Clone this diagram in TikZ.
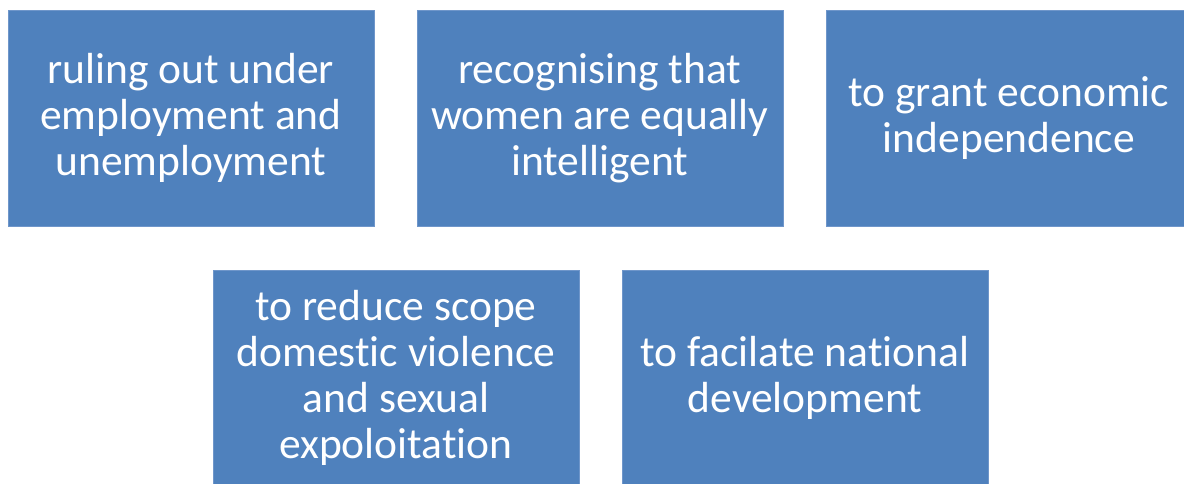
\documentclass[tikz,border=0pt]{standalone}
\usepackage{fontspec}
\setmainfont{Carlito}[Ligatures=NoCommon]
\definecolor{boxblue}{HTML}{4F81BD}
\definecolor{boxedge}{HTML}{6F96CA}
\begin{document}
\begin{tikzpicture}[x=1pt,y=-1pt,
  card/.style={fill=boxblue, draw=boxedge, line width=0.8pt, text=white,
    minimum width=366pt, minimum height=216pt, inner sep=0pt, anchor=north west,
    align=center, font=\fontsize{43.5}{46}\selectfont}]
\useasboundingbox (0,0) rectangle (1184,483);
\node[card] (a) at (7.5,9.5) {ruling out under\\employment and\\unemployment};
\node[card] (b) at (416.5,9.5) {recognising that\\women are equally\\intelligent};
\node[card] (c) at (825.5,9.5) {to grant economic\\independence};
\node[card] (d) at (212.5,269.5) {to reduce scope\\domestic violence\\and sexual\\expoloitation};
\node[card] (e) at (621.5,269.5) {to facilate national\\development};
\end{tikzpicture}
\end{document}
